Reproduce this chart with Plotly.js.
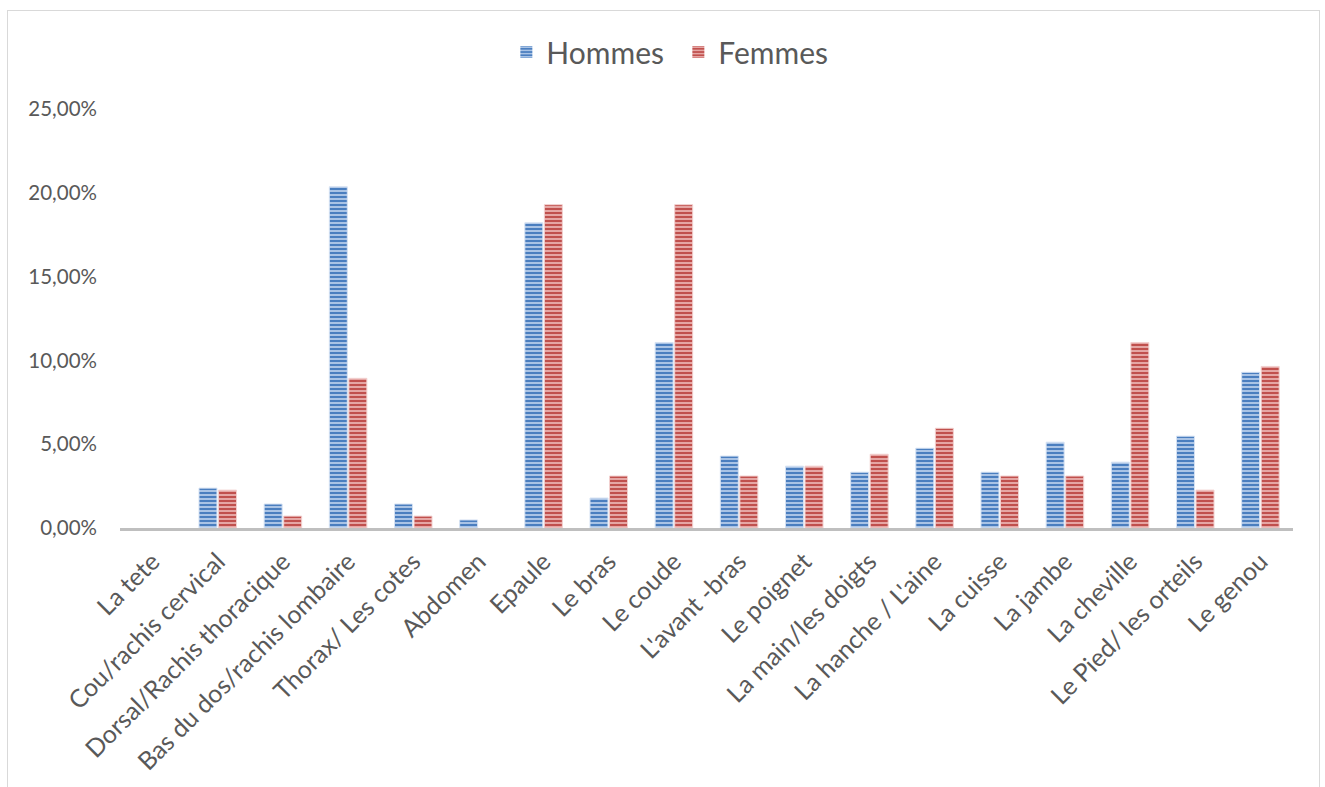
<!DOCTYPE html>
<html>
<head>
<meta charset="utf-8">
<script src="https://cdn.plot.ly/plotly-3.0.1.min.js"></script>
<style>
  html, body { margin: 0; padding: 0; background: #ffffff; }
  #frame { position: absolute; left: 7px; top: 10px; width: 1313px; height: 800px; border: 1px solid #d9d9d9; box-sizing: border-box; }
  #chart { position: absolute; left: 0; top: 0; width: 1325px; height: 787px; }
</style>
</head>
<body>
<div id="frame"></div>
<div id="chart"></div>
<script>
const categories = [
  "La tete", "Cou/rachis cervical", "Dorsal/Rachis thoracique", "Bas du dos/rachis lombaire",
  "Thorax/ Les cotes", "Abdomen", "Epaule", "Le bras", "Le coude", "L'avant -bras",
  "Le poignet", "La main/les doigts", "La hanche / L'aine", "La cuisse", "La jambe",
  "La cheville", "Le Pied/ les orteils", "Le genou"
];
const hommes = [0.0000, 0.0238, 0.0143, 0.2036, 0.0143, 0.0048, 0.1821, 0.0179, 0.1107, 0.0429,
                0.0369, 0.0333, 0.0476, 0.0333, 0.0512, 0.0393, 0.0548, 0.0929];
const femmes = [0.0000, 0.0226, 0.0071, 0.0893, 0.0071, 0.0000, 0.1929, 0.0310, 0.1929, 0.0310,
                0.0369, 0.0440, 0.0595, 0.0310, 0.0310, 0.1107, 0.0226, 0.0964];
const seriesNames = ["Hommes", "Femmes"];
const yTicks = [0, 0.05, 0.10, 0.15, 0.20, 0.25];

const fontFamily = "Lato, 'Open Sans', sans-serif";
const textColor = "#595959";

function barTrace(name, values, dark, light, edge) {
  return {
    type: "bar",
    name: name,
    x: categories,
    y: values,
    marker: {
      color: dark,
      line: { color: edge, width: values.map(v => (v > 0 ? 1 : 0)) },
      pattern: { shape: "-", bgcolor: dark, fgcolor: light, size: 4, solidity: 0.45, fillmode: "replace" }
    },
    hoverinfo: "x+y"
  };
}

const data = [
  barTrace(seriesNames[0], hommes, "#4a7ebf", "#b4cbea", "#d6e2f3"),
  barTrace(seriesNames[1], femmes, "#c0504d", "#eab0ae", "#f2d0cf")
];

const layout = {
  width: 1325,
  height: 787,
  paper_bgcolor: "rgba(0,0,0,0)",
  plot_bgcolor: "rgba(0,0,0,0)",
  separators: ", ",
  font: { family: fontFamily, color: textColor, size: 20 },
  margin: { l: 120, r: 32, t: 109, b: 259, pad: 0 },
  barmode: "group",
  bargap: 0.4,
  bargroupgap: 0.08,
  showlegend: true,
  legend: {
    orientation: "h",
    x: 0.476, xanchor: "center",
    y: 1.136, yanchor: "middle",
    font: { family: fontFamily, size: 30, color: textColor },
    itemwidth: 30,
    entrywidth: 127,
    entrywidthmode: "pixels",
    bgcolor: "rgba(0,0,0,0)"
  },
  xaxis: {
    type: "category",
    tickangle: -45,
    showgrid: false,
    showline: true,
    linecolor: "#bfbfbf",
    linewidth: 3,
    ticks: "",
    ticklabelstandoff: 6,
    tickfont: { family: fontFamily, size: 25, color: textColor },
    automargin: false
  },
  yaxis: {
    range: [0, 0.25],
    tickvals: yTicks,
    tickformat: ".2%",
    showgrid: false,
    zeroline: false,
    showline: false,
    ticks: "",
    ticklabelstandoff: 22,
    tickfont: { family: fontFamily, size: 20.5, color: textColor },
    automargin: false
  }
};

Plotly.newPlot("chart", data, layout, { displayModeBar: false, staticPlot: true });
</script>
</body>
</html>
